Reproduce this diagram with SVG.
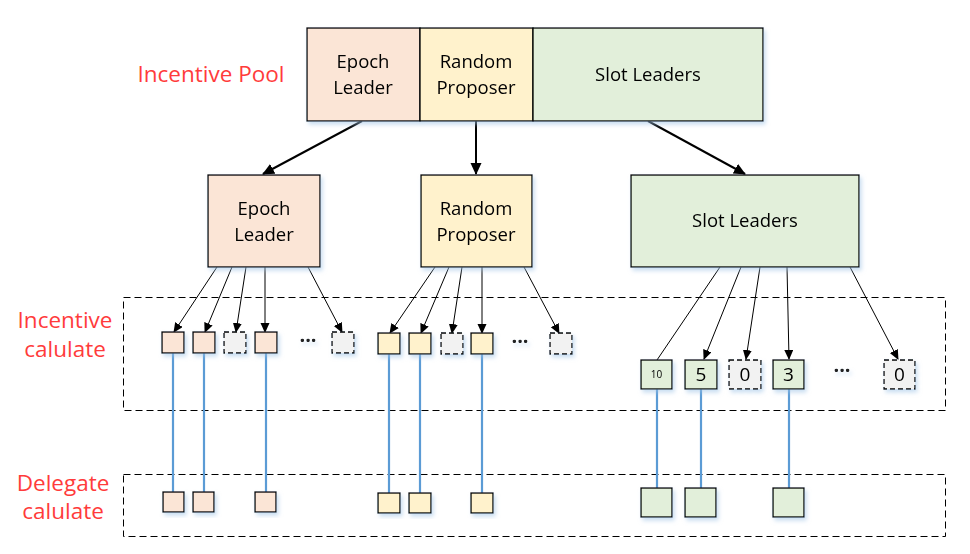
<svg xmlns="http://www.w3.org/2000/svg" width="970" height="554" viewBox="0 0 970 554">
<defs>
<style>
.t{font-family:"Open Sans","Liberation Sans",sans-serif;fill:#000;text-anchor:middle}
.lbl{font-family:"Open Sans","Liberation Sans",sans-serif;fill:#FF3B3B;font-size:22.5px;text-anchor:middle}
.b{stroke:#000;stroke-width:1.3}
.ep{fill:#FBE5D6}.rp{fill:#FFF2CC}.sl{fill:#E2EFDA}.gy{fill:#F2F2F2;stroke-dasharray:5,3}
.dash{fill:none;stroke:#000;stroke-width:1;stroke-dasharray:7,4}
.ar{stroke:#000;stroke-width:1;fill:none;marker-end:url(#ah)}
.ar2{stroke:#000;stroke-width:2;fill:none;marker-end:url(#ah2)}
.bl{stroke:#5B9BD5;stroke-width:2.2}
.dots{font-family:"Open Sans","Liberation Sans",sans-serif;font-size:20px;font-weight:bold;fill:#222;text-anchor:middle}
</style>
<marker id="ah" markerWidth="10" markerHeight="10" refX="9" refY="4.5" orient="auto" markerUnits="userSpaceOnUse"><path d="M0,0 L10,4.5 L0,9 Z" fill="#000"/></marker>
<marker id="ah2" markerWidth="12" markerHeight="12" refX="11" refY="5.5" orient="auto" markerUnits="userSpaceOnUse"><path d="M0,0 L12,5.5 L0,11 Z" fill="#000"/></marker>
<filter id="sh" x="-20%" y="-20%" width="150%" height="150%"><feDropShadow dx="2" dy="3" stdDeviation="2" flood-color="#9DC3E6" flood-opacity="0.55"/></filter>
</defs>
<rect width="970" height="554" fill="#fff"/>

<g id="labels">
<text class="lbl" x="211" y="82">Incentive Pool</text>
<text class="lbl" x="65" y="328">Incentive</text>
<text class="lbl" x="65" y="357">calulate</text>
<text class="lbl" x="63" y="491">Delegate</text>
<text class="lbl" x="63" y="519">calulate</text>
</g>

<g id="regions">
<rect class="dash" x="123.5" y="297.5" width="822" height="113"/>
<rect class="dash" x="123.5" y="474.5" width="822" height="62"/>
</g>

<g id="connectors">
<line class="ar2" x1="362" y1="121" x2="263" y2="174"/>
<line class="ar2" x1="476" y1="121" x2="476" y2="174"/>
<line class="ar2" x1="648" y1="121" x2="745" y2="174"/>
<line class="ar" x1="217" y1="267" x2="174" y2="332"/>
<line class="ar" x1="232" y1="267" x2="205" y2="332"/>
<line class="ar" x1="246" y1="267" x2="236" y2="332"/>
<line class="ar" x1="265" y1="267" x2="265" y2="332"/>
<line class="ar" x1="308" y1="267" x2="342" y2="332"/>
<line class="ar" x1="435" y1="267" x2="390" y2="333"/>
<line class="ar" x1="449" y1="267" x2="421" y2="333"/>
<line class="ar" x1="462" y1="267" x2="452" y2="333"/>
<line class="ar" x1="482" y1="267" x2="482" y2="333"/>
<line class="ar" x1="524" y1="267" x2="559" y2="333"/>
<line stroke="#000" stroke-width="1" x1="720" y1="267" x2="657" y2="360"/>
<line class="ar" x1="741" y1="267" x2="704" y2="359"/>
<line class="ar" x1="760" y1="267" x2="746" y2="359"/>
<line class="ar" x1="787" y1="267" x2="789" y2="359"/>
<line class="ar" x1="850" y1="267" x2="898" y2="359"/>
<line class="bl" x1="173" y1="353" x2="173" y2="492"/>
<line class="bl" x1="204" y1="353" x2="204" y2="492"/>
<line class="bl" x1="266" y1="353" x2="266" y2="492"/>
<line class="bl" x1="389" y1="354" x2="389" y2="493"/>
<line class="bl" x1="420" y1="354" x2="420" y2="493"/>
<line class="bl" x1="482" y1="354" x2="482" y2="493"/>
<line class="bl" x1="657" y1="389" x2="657" y2="488"/>
<line class="bl" x1="701" y1="389" x2="701" y2="488"/>
<line class="bl" x1="789" y1="389" x2="789" y2="488"/>
</g>

<g id="pool" filter="url(#sh)">
<rect class="b ep" x="307" y="28" width="113" height="93"/>
<rect class="b rp" x="420" y="28" width="113" height="93"/>
<rect class="b sl" x="533" y="28" width="230" height="93"/>
<text class="t" font-size="18.5" x="363" y="68">Epoch</text>
<text class="t" font-size="18.5" x="363" y="94">Leader</text>
<text class="t" font-size="18.5" x="476" y="68">Random</text>
<text class="t" font-size="18.5" x="476" y="94">Proposer</text>
<text class="t" font-size="18.5" x="648" y="81">Slot Leaders</text>
</g>

<g id="epoch-leader" filter="url(#sh)">
<rect class="b ep" x="208" y="175" width="112" height="92"/>
<text class="t" font-size="18.5" x="264" y="215">Epoch</text>
<text class="t" font-size="18.5" x="264" y="241">Leader</text>
</g>
<g id="random-proposer" filter="url(#sh)">
<rect class="b rp" x="421" y="175" width="111" height="92"/>
<text class="t" font-size="18.5" x="476" y="215">Random</text>
<text class="t" font-size="18.5" x="476" y="241">Proposer</text>
</g>
<g id="slot-leaders" filter="url(#sh)">
<rect class="b sl" x="631" y="175" width="228" height="92"/>
<text class="t" font-size="18.5" x="745" y="227">Slot Leaders</text>
</g>

<g id="incentive-epoch" filter="url(#sh)">
<rect class="b ep" x="162" y="332" width="22" height="21"/>
<rect class="b ep" x="193" y="332" width="22" height="21"/>
<rect class="b gy" x="224" y="332" width="22" height="21"/>
<rect class="b ep" x="255" y="332" width="22" height="21"/>
<text class="dots" x="308" y="347">···</text>
<rect class="b gy" x="332" y="332" width="22" height="21"/>
</g>
<g id="incentive-random" filter="url(#sh)">
<rect class="b rp" x="378" y="333" width="22" height="21"/>
<rect class="b rp" x="409" y="333" width="22" height="21"/>
<rect class="b gy" x="441" y="333" width="22" height="21"/>
<rect class="b rp" x="471" y="333" width="22" height="21"/>
<text class="dots" x="520" y="348">···</text>
<rect class="b gy" x="550" y="333" width="22" height="21"/>
</g>
<g id="incentive-slot" filter="url(#sh)">
<rect class="b sl" x="641" y="360" width="31" height="29"/>
<text class="t" font-size="10" x="656.5" y="378">10</text>
<rect class="b sl" x="685" y="360" width="32" height="29"/>
<text class="t" font-size="19" x="701" y="381">5</text>
<rect class="b gy" x="729" y="360" width="32" height="29"/>
<text class="t" font-size="19" x="745" y="381">0</text>
<rect class="b sl" x="773" y="360" width="31" height="29"/>
<text class="t" font-size="19" x="788.5" y="381">3</text>
<text class="dots" x="842" y="377">···</text>
<rect class="b gy" x="884" y="360" width="31" height="29"/>
<text class="t" font-size="19" x="899.5" y="381">0</text>
</g>

<g id="delegate-epoch" filter="url(#sh)">
<rect class="b ep" x="163" y="492" width="21" height="20"/>
<rect class="b ep" x="193" y="492" width="21" height="20"/>
<rect class="b ep" x="255" y="492" width="21" height="20"/>
</g>
<g id="delegate-random" filter="url(#sh)">
<rect class="b rp" x="378" y="493" width="22" height="20"/>
<rect class="b rp" x="409" y="493" width="22" height="20"/>
<rect class="b rp" x="471" y="493" width="22" height="20"/>
</g>
<g id="delegate-slot" filter="url(#sh)">
<rect class="b sl" x="641" y="488" width="31" height="29"/>
<rect class="b sl" x="685" y="488" width="31" height="29"/>
<rect class="b sl" x="773" y="488" width="31" height="29"/>
</g>
</svg>
